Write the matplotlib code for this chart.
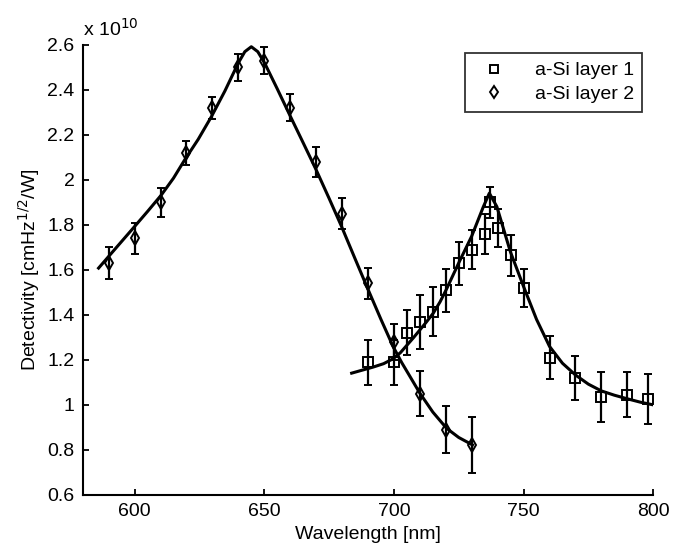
import matplotlib
matplotlib.use("Agg")
import matplotlib.pyplot as plt
from matplotlib.ticker import FuncFormatter

plt.rcParams['font.family'] = ['Liberation Sans', 'DejaVu Sans']

# measured points, detectivity in units of 1e10
wl1 = [690, 700, 705, 710, 715, 720, 725, 730, 735, 737, 740, 745, 750, 760, 770, 780, 790, 798]
d1 = [1.19, 1.19, 1.32, 1.37, 1.415, 1.51, 1.63, 1.69, 1.76, 1.90, 1.785, 1.665, 1.52, 1.21, 1.12, 1.035, 1.045, 1.025]
e1 = [0.10, 0.10, 0.10, 0.12, 0.11, 0.095, 0.095, 0.087, 0.09, 0.07, 0.085, 0.09, 0.085, 0.095, 0.097, 0.11, 0.10, 0.11]

wl2 = [590, 600, 610, 620, 630, 640, 650, 660, 670, 680, 690, 700, 710, 720, 730]
d2 = [1.63, 1.74, 1.90, 2.12, 2.32, 2.50, 2.53, 2.32, 2.08, 1.85, 1.54, 1.28, 1.05, 0.89, 0.82]
e2 = [0.07, 0.07, 0.065, 0.055, 0.05, 0.06, 0.06, 0.06, 0.065, 0.07, 0.07, 0.08, 0.10, 0.105, 0.125]

# fitted curves
fit1_x = [683.7, 688, 692, 696, 699.7, 702.5, 705, 707.5, 710, 712.5, 715.2, 717.8, 720.3, 725.2, 730,
          734.5, 736.8, 739.7, 744.9, 750, 755, 760, 765, 770, 775, 780, 785, 790, 795, 800]
fit1_y = [1.141, 1.155, 1.168, 1.183, 1.205, 1.232, 1.265, 1.298, 1.333, 1.368, 1.408, 1.458, 1.515, 1.636, 1.750,
          1.881, 1.941, 1.881, 1.681, 1.526, 1.38, 1.26, 1.185, 1.133, 1.092, 1.062, 1.043, 1.027, 1.012, 1.0]

fit2_x = [586.1, 593, 600, 605, 610.3, 615, 619.3, 624.5, 629.6, 634.8, 639.9, 642.5, 645, 647.5, 650.2,
          655, 659.8, 665, 670, 675, 679.8, 685, 690.1, 695, 699.7, 703, 706.2, 710, 715, 720.3, 725, 730.3]
fit2_y = [1.608, 1.700, 1.793, 1.860, 1.933, 2.008, 2.089, 2.180, 2.281, 2.395, 2.518, 2.570, 2.592, 2.570, 2.518,
          2.405, 2.289, 2.165, 2.045, 1.918, 1.793, 1.650, 1.511, 1.380, 1.259, 1.188, 1.126, 1.052, 0.968, 0.896, 0.855, 0.822]

fig = plt.figure(figsize=(6.84, 5.48), dpi=100)
ax = fig.add_axes([0.121, 0.097, 0.834, 0.821])

ax.plot(fit1_x, fit1_y, color='black', lw=2.2, solid_joinstyle='round')
ax.plot(fit2_x, fit2_y, color='black', lw=2.2, solid_joinstyle='round')

ax.errorbar(wl1, d1, yerr=e1, fmt='s', ms=7, mfc='none', mec='black', mew=1.4,
            ecolor='black', elinewidth=1.6, capsize=3, capthick=1.4, label='a-Si layer 1')
ax.errorbar(wl2, d2, yerr=e2, fmt='d', ms=7.5, mfc='none', mec='black', mew=1.4,
            ecolor='black', elinewidth=1.6, capsize=3, capthick=1.4, label='a-Si layer 2')

ax.set_xlim(580, 800)
ax.set_ylim(0.6, 2.6)
ax.set_xticks([600, 650, 700, 750, 800])
ax.set_yticks([0.6, 0.8, 1.0, 1.2, 1.4, 1.6, 1.8, 2.0, 2.2, 2.4, 2.6])
ax.yaxis.set_major_formatter(FuncFormatter(lambda v, p: '%g' % round(v, 2)))

ax.spines['top'].set_visible(False)
ax.spines['right'].set_visible(False)
ax.spines['left'].set_linewidth(1.5)
ax.spines['bottom'].set_linewidth(1.5)
ax.tick_params(direction='in', length=4, width=1.3, labelsize=14, pad=6)

ax.set_xlabel('Wavelength [nm]', fontsize=14, labelpad=4)
ax.set_ylabel('Detectivity [cmHz$^{1/2}$/W]', fontsize=14, labelpad=4)
ax.text(0.0, 1.012, 'x 10$^{10}$', transform=ax.transAxes, fontsize=14,
        ha='left', va='bottom')

# legend with markers only
h, l = ax.get_legend_handles_labels()
h = [hh[0] for hh in h]
leg = ax.legend(h, l, loc='upper right', bbox_to_anchor=(0.981, 0.982), borderaxespad=0,
                fontsize=14, frameon=True, fancybox=False, edgecolor='black', markerscale=0.85,
                handlelength=2.0, handletextpad=1.1, borderpad=0.45, labelspacing=0.3)
leg.get_frame().set_linewidth(1.3)

fig.savefig('out.png', dpi=100)
